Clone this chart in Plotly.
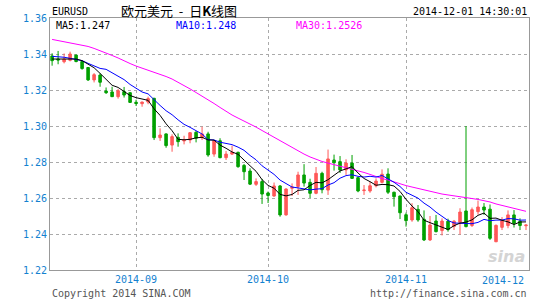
import plotly.graph_objects as go
import pandas as pd

# ---- data ----
dates = [d.strftime("%Y-%m-%d") for d in pd.bdate_range("2014-08-12", "2014-12-01")]

opens = [1.3389, 1.3372, 1.3357, 1.3365, 1.3394, 1.3358, 1.3325, 1.3256, 1.3283, 1.3194,
         1.3189, 1.3163, 1.3191, 1.3185, 1.3132, 1.3124, 1.3133, 1.3154, 1.2935, 1.2956,
         1.2894, 1.2937, 1.2917, 1.2922, 1.2965, 1.2935, 1.2956, 1.2844, 1.2918, 1.2824,
         1.2844, 1.2854, 1.2781, 1.2750, 1.2676, 1.2691, 1.2628, 1.2611, 1.2667, 1.2506,
         1.2654, 1.2664, 1.2728, 1.2687, 1.2626, 1.2737, 1.2644, 1.2811, 1.2802, 1.2756,
         1.2794, 1.2713, 1.2641, 1.2639, 1.2668, 1.2687, 1.2733, 1.2632, 1.2611, 1.2507,
         1.2478, 1.2537, 1.2482, 1.2367, 1.2472, 1.2419, 1.2471, 1.2442, 1.2464, 1.2528,
         1.2447, 1.2524, 1.2550, 1.2538, 1.2357, 1.2437, 1.2447, 1.2506, 1.2471, 1.2446]
highs = [1.3404, 1.3417, 1.3403, 1.3413, 1.3396, 1.3364, 1.3327, 1.3294, 1.3293, 1.3214,
         1.3218, 1.3206, 1.3217, 1.3189, 1.3146, 1.3135, 1.3163, 1.3156, 1.2987, 1.2959,
         1.2954, 1.2959, 1.2946, 1.2965, 1.2972, 1.2996, 1.2968, 1.2922, 1.2932, 1.2861,
         1.2891, 1.2857, 1.2789, 1.2765, 1.2709, 1.2706, 1.2636, 1.2686, 1.2672, 1.2654,
         1.2681, 1.2746, 1.2788, 1.2707, 1.2772, 1.2746, 1.2869, 1.2841, 1.2833, 1.2815,
         1.2839, 1.2718, 1.2672, 1.2691, 1.2709, 1.2759, 1.2765, 1.2635, 1.2613, 1.2519,
         1.2571, 1.2561, 1.2531, 1.2500, 1.2506, 1.2487, 1.2485, 1.2478, 1.2543, 1.3000,
         1.2547, 1.2586, 1.2572, 1.2564, 1.2453, 1.2494, 1.2531, 1.2533, 1.2487, 1.2452]
lows = [1.3335, 1.3343, 1.3348, 1.3359, 1.3354, 1.3313, 1.3250, 1.3242, 1.3218, 1.3178,
        1.3161, 1.3152, 1.3158, 1.3129, 1.3111, 1.3107, 1.3121, 1.2922, 1.2917, 1.2879,
        1.2857, 1.2885, 1.2898, 1.2904, 1.2909, 1.2922, 1.2829, 1.2829, 1.2821, 1.2811,
        1.2839, 1.2768, 1.2700, 1.2672, 1.2667, 1.2567, 1.2572, 1.2607, 1.2496, 1.2502,
        1.2611, 1.2617, 1.2663, 1.2600, 1.2621, 1.2626, 1.2617, 1.2752, 1.2739, 1.2728,
        1.2706, 1.2632, 1.2617, 1.2629, 1.2659, 1.2681, 1.2622, 1.2552, 1.2483, 1.2441,
        1.2468, 1.2468, 1.2361, 1.2361, 1.2409, 1.2392, 1.2413, 1.2422, 1.2397, 1.2437,
        1.2439, 1.2508, 1.2506, 1.2367, 1.2355, 1.2422, 1.2432, 1.2436, 1.2422, 1.2422]
closes = [1.3363, 1.3367, 1.3372, 1.3400, 1.3358, 1.3319, 1.3256, 1.3285, 1.3243, 1.3185,
          1.3163, 1.3196, 1.3172, 1.3131, 1.3125, 1.3133, 1.3152, 1.2935, 1.2950, 1.2891,
          1.2941, 1.2913, 1.2922, 1.2963, 1.2932, 1.2956, 1.2839, 1.2918, 1.2824, 1.2844,
          1.2854, 1.2774, 1.2746, 1.2677, 1.2691, 1.2622, 1.2614, 1.2667, 1.2506, 1.2650,
          1.2661, 1.2728, 1.2683, 1.2626, 1.2737, 1.2646, 1.2817, 1.2796, 1.2756, 1.2794,
          1.2709, 1.2639, 1.2644, 1.2668, 1.2694, 1.2732, 1.2632, 1.2607, 1.2518, 1.2474,
          1.2546, 1.2478, 1.2367, 1.2450, 1.2413, 1.2472, 1.2424, 1.2471, 1.2522, 1.2441,
          1.2535, 1.2550, 1.2533, 1.2376, 1.2448, 1.2474, 1.2506, 1.2459, 1.2447, 1.2450]

# moving-average values before a full window is available
ma5_head = [1.3372, 1.3372, 1.3371, 1.3371]
ma10_head = [1.3387, 1.3385, 1.3382, 1.3376, 1.3371, 1.3363, 1.3348, 1.3333, 1.3320]
ma30 = [1.3481, 1.3475, 1.3469, 1.3464, 1.3458, 1.3450, 1.3442, 1.3431, 1.3419, 1.3406,
        1.3392, 1.3378, 1.3361, 1.3347, 1.3333, 1.3322, 1.3311, 1.3300, 1.3289, 1.3275,
        1.3261, 1.3244, 1.3225, 1.3206, 1.3186, 1.3167, 1.3147, 1.3125, 1.3103, 1.3081,
        1.3061, 1.3044, 1.3028, 1.3011, 1.2994, 1.2975, 1.2956, 1.2939, 1.2919, 1.2900,
        1.2883, 1.2861, 1.2844, 1.2828, 1.2814, 1.2803, 1.2794, 1.2786, 1.2778, 1.2769,
        1.2761, 1.2753, 1.2742, 1.2731, 1.2719, 1.2708, 1.2700, 1.2689, 1.2681, 1.2669,
        1.2661, 1.2653, 1.2644, 1.2636, 1.2631, 1.2622, 1.2617, 1.2611, 1.2606, 1.2603,
        1.2597, 1.2592, 1.2586, 1.2578, 1.2567, 1.2558, 1.2550, 1.2542, 1.2533, 1.2526]

month_ticks = ["2014-09-01", "2014-10-01", "2014-11-03"]
month_labels = ["2014-09", "2014-10", "2014-11"]
last_label = "2014-12"
y_ticks = [1.22, 1.24, 1.26, 1.28, 1.30, 1.32, 1.34, 1.36]

symbol = "EURUSD"
title = "欧元美元&nbsp;&nbsp;-&nbsp;&nbsp;日<b>K</b>线图"
stamp = "2014-12-01 14:30:01"

# ---- derived ----
cs = pd.Series(closes)
ma5 = ma5_head + cs.rolling(5).mean().tolist()[4:]
ma10 = ma10_head + cs.rolling(10).mean().tolist()[9:]

BLUE = "#1381d0"
MONO = "DejaVu Sans Mono"
UP = "#ff5858"
DOWN = "#00a000"

fig = go.Figure()
fig.add_trace(go.Candlestick(
    x=dates, open=opens, high=highs, low=lows, close=closes,
    increasing=dict(line=dict(color=UP, width=1), fillcolor=UP),
    decreasing=dict(line=dict(color=DOWN, width=1), fillcolor=DOWN),
    whiskerwidth=0, hoverinfo="skip", showlegend=False))
fig.add_trace(go.Scatter(x=dates, y=ma30, mode="lines",
                         line=dict(color="#ff00ff", width=1), hoverinfo="skip", showlegend=False))
fig.add_trace(go.Scatter(x=dates, y=ma10, mode="lines",
                         line=dict(color="#0000ff", width=1), hoverinfo="skip", showlegend=False))
fig.add_trace(go.Scatter(x=dates, y=ma5, mode="lines",
                         line=dict(color="#000000", width=1), hoverinfo="skip", showlegend=False))

ann = []
ann.append(dict(text=symbol, x=0, xref="paper", xanchor="left", y=1, yref="paper",
                yanchor="middle", yshift=7, showarrow=False,
                font=dict(family=MONO, size=10, color="#000")))
ann.append(dict(text=title, x=0.144, xref="paper", xanchor="left", y=1, yref="paper",
                yanchor="middle", yshift=8, showarrow=False,
                font=dict(family="Noto Sans CJK SC", size=13, color="#000")))
ann.append(dict(text=stamp, x=1, xref="paper", xanchor="right", y=1, yref="paper",
                yanchor="middle", yshift=7, showarrow=False,
                font=dict(family=MONO, size=10, color="#000")))
for txt, xp, col in [(f"MA5:{ma5[-1]:.3f}", 0.008, "#000000"),
                     (f"MA10:{ma10[-1]:.3f}", 0.259, "#0000ff"),
                     (f"MA30:{ma30[-1]:.4f}", 0.510, "#ff00ff")]:
    ann.append(dict(text=txt, x=xp, xref="paper", xanchor="left", y=1, yref="paper",
                    yanchor="middle", yshift=-7, showarrow=False,
                    font=dict(family=MONO, size=10, color=col)))
ann.append(dict(text=last_label, x=dates[-1], xref="x", xanchor="right", y=0, yref="paper",
                yanchor="middle", yshift=-10, showarrow=False,
                font=dict(family=MONO, size=10, color=BLUE)))
ann.append(dict(text="Copyright 2014 SINA.COM", x=0, xref="paper", xanchor="left", y=0,
                yref="paper", yanchor="middle", yshift=-23, showarrow=False,
                font=dict(family=MONO, size=10, color="#555")))
ann.append(dict(text="http://finance.sina.com.cn", x=1, xref="paper", xanchor="right", y=0,
                yref="paper", yanchor="middle", yshift=-23, showarrow=False,
                font=dict(family=MONO, size=10, color="#555")))
ann.append(dict(text="<b><i>sina</i></b>", x=0.995, xref="paper", xanchor="right", y=0,
                yref="paper", yanchor="bottom", yshift=2, showarrow=False,
                font=dict(family="DejaVu Sans", size=16, color="#d4d4d4")))

fig.update_layout(
    width=545, height=300,
    margin=dict(l=50, r=16, t=18, b=30),
    paper_bgcolor="white", plot_bgcolor="white",
    boxgap=0.4,
    annotations=ann,
    hovermode=False,
    xaxis=dict(type="category", range=[-0.35, 79.5], rangeslider=dict(visible=False),
               tickvals=month_ticks, ticktext=month_labels, ticks="",
               tickfont=dict(family=MONO, size=10, color=BLUE),
               showgrid=True, gridcolor="#aaaaaa", griddash="dot", gridwidth=1,
               showline=True, linecolor="#999999", linewidth=1, mirror=True,
               fixedrange=True),
    yaxis=dict(range=[1.22, 1.36], tickvals=y_ticks, tickformat=".2f", ticks="",
               tickfont=dict(family=MONO, size=10, color=BLUE),
               showgrid=True, gridcolor="#aaaaaa", griddash="dot", gridwidth=1,
               zeroline=False, showline=True, linecolor="#999999", linewidth=1,
               mirror=True, fixedrange=True),
)

fig.write_html("out.html", config={"displayModeBar": False})
